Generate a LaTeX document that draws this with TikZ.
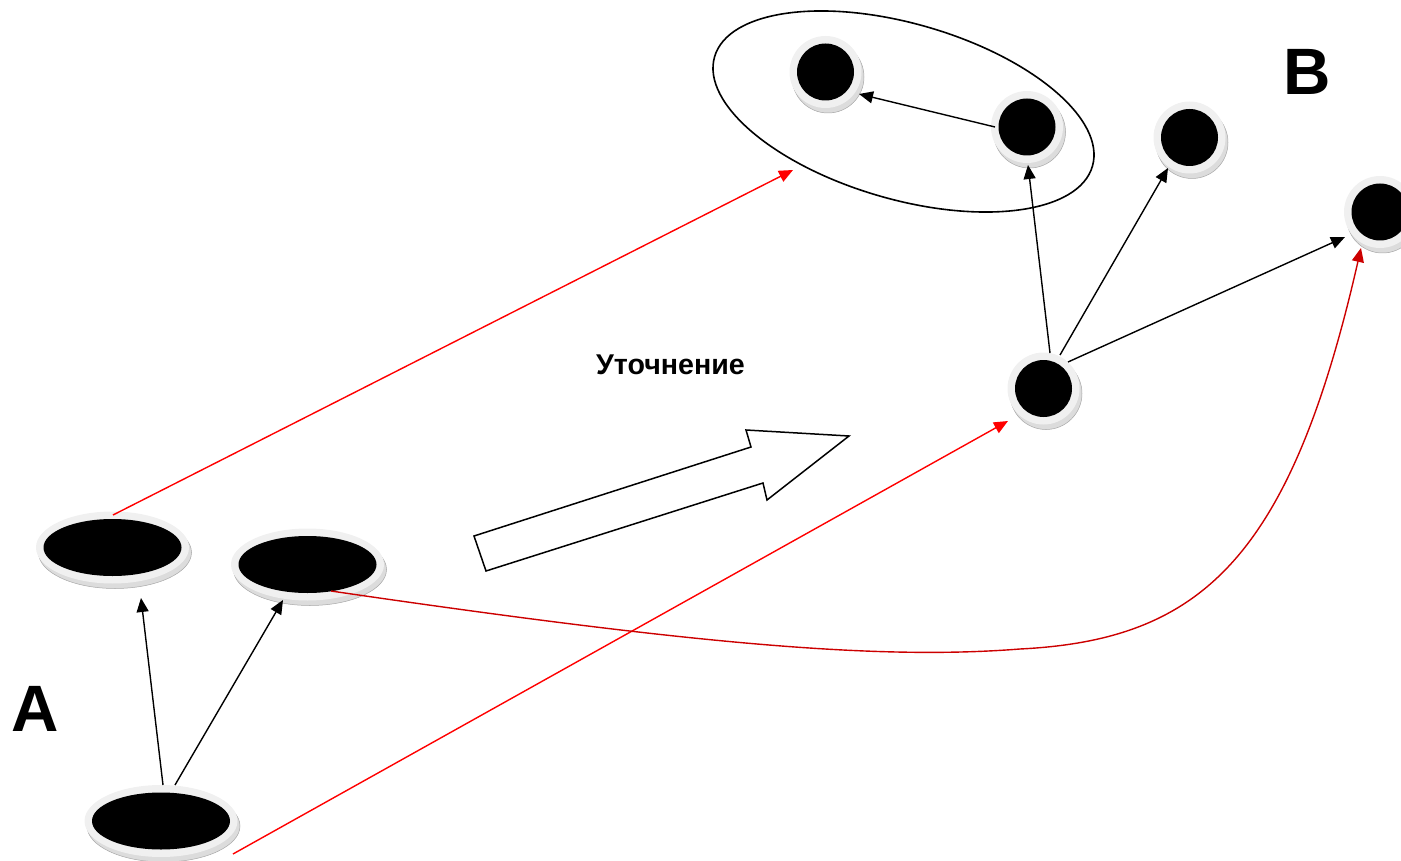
\documentclass[tikz,border=0pt]{standalone}
\usepackage{fontspec}
\setmainfont{Liberation Sans}
\usetikzlibrary{arrows.meta,shapes.geometric,shadows}
\definecolor{rimc}{HTML}{F0F0F0}
\definecolor{edgec}{HTML}{DCDCDC}
\definecolor{edgel}{HTML}{A8A8A8}
\definecolor{darkred}{HTML}{CC0000}
\tikzset{
  disc/.style={fill=rimc, draw=none, inner sep=0pt, outer sep=0pt,
    drop shadow={shadow xshift=2.5pt, shadow yshift=-5pt, fill=edgec, draw=edgel, line width=0.5pt, opacity=1}},
  bcirc/.style={disc, circle, minimum size=72pt,
    path picture={\fill[black] (path picture bounding box.center) circle[radius=28.5pt];}},
  bell/.style={disc, ellipse, minimum width=153pt, minimum height=72pt,
    path picture={\fill[black] (path picture bounding box.center) ellipse[x radius=69pt, y radius=28.5pt];}},
  conn/.style={line width=1.4pt, -{Triangle[length=14pt,width=12pt]}},
  redconn/.style={conn, red},
  curveconn/.style={conn, darkred},
  bigarrow/.style={draw, line width=1.5pt, line join=miter, fill=white},
  lbl/.style={font=\bfseries, anchor=base, inner sep=0pt}
}
\begin{document}
\begin{tikzpicture}[x=1pt,y=-1pt]
\useasboundingbox (0,0) rectangle (1401,861);
% group ellipse
\node[ellipse, draw, line width=1.6pt, inner sep=0pt, rotate=-16.15,
      minimum width=393.4pt, minimum height=175.6pt] (grp) at (903.5,111.5) {};
% discs
\node[bell] (a1) at (112.5,547.5) {};
\node[bell] (a2) at (307.5,564.5) {};
\node[bell] (a3) at (161,821) {};
\node[bcirc] (b1) at (825.5,72) {};
\node[bcirc] (b2) at (1027,127) {};
\node[bcirc] (b3) at (1189.5,137.5) {};
\node[bcirc] (b4) at (1380,212) {};
\node[bcirc] (b5) at (1043.5,388.5) {};
% labels
\node[lbl, font=\bfseries\fontsize{65.6pt}{70pt}\selectfont] (la) at (35.5,731) {A};
\node[lbl, font=\bfseries\fontsize{65.6pt}{70pt}\selectfont] (lb) at (1307,95) {B};
\node[lbl, font=\bfseries\fontsize{28.6pt}{32pt}\selectfont] (lt) at (670.5,374) {Уточнение};
% refinement block arrow
\draw[bigarrow] (486,571) -- (474,536) -- (751,447) -- (746,430) -- (849,436) -- (767,500) -- (763,483) -- cycle;
% black connectors
\draw[conn] ([shift={(2,-36)}]a3.center) -- ([shift={(28.5,50.5)}]a1.center);
\draw[conn] ([shift={(14,-36)}]a3.center) -- ([shift={(-24.5,35.5)}]a2.center);
\draw[conn] ([shift={(6.5,-35.5)}]b5.center) -- ([shift={(1,38)}]b2.center);
\draw[conn] ([shift={(16.5,-33.5)}]b5.center) -- ([shift={(-21.5,30.5)}]b3.center);
\draw[conn] ([shift={(24.5,-26.5)}]b5.center) -- ([shift={(-35,25)}]b4.center);
\draw[conn] ([shift={(-32,0)}]b2.center) -- ([shift={(33.5,22)}]b1.center);
% red connectors
\draw[redconn] ([shift={(0.5,-32.5)}]a1.center) -- ([shift={(-110.5,58.5)}]grp.center);
\draw[redconn] ([shift={(72,33)}]a3.center) -- ([shift={(-35.5,32.5)}]b5.center);
\coordinate (cm) at (1020,649);
\draw[curveconn] ([shift={(23.5,26.5)}]a2.center) .. controls (700,645) and (880,660) .. (cm)
  .. controls (1200,640) and (1290,560) .. ([shift={(-19,36)}]b4.center);
\end{tikzpicture}
\end{document}
